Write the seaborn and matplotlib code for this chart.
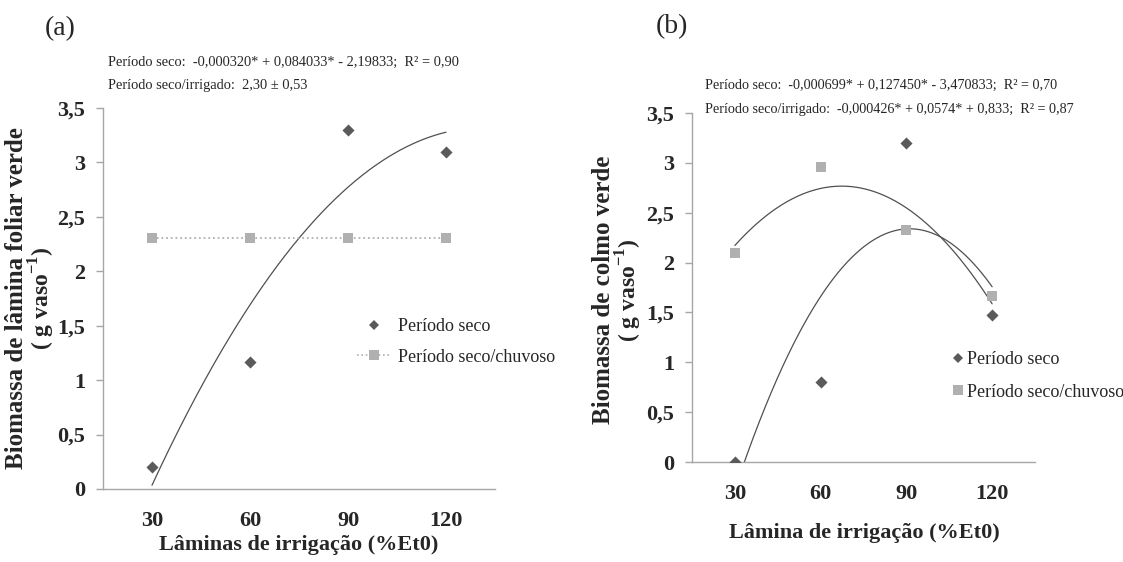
import numpy as np
import pandas as pd
import matplotlib
matplotlib.use("Agg")
import matplotlib.pyplot as plt
from matplotlib.lines import Line2D
from matplotlib.ticker import FixedLocator
import seaborn as sns

# ---- data -------------------------------------------------------------
laminas = [30, 60, 90, 120]

# (a) biomassa de lâmina foliar verde
seco_a = [0.20, 1.17, 3.30, 3.10]
chuvoso_a = [2.31, 2.31, 2.31, 2.31]
coef_seco_a = [-0.000320, 0.084033, -2.19833]

# (b) biomassa de colmo verde
seco_b = [0.00, 0.80, 3.20, 1.47]
chuvoso_b = [2.10, 2.96, 2.33, 1.66]
coef_seco_b = [-0.000699, 0.127450, -3.470833]
coef_chuvoso_b = [-0.000426, 0.0574, 0.833]

y_ticks = [0, 0.5, 1, 1.5, 2, 2.5, 3, 3.5]
y_ticklabels = ["0", "0,5", "1", "1,5", "2", "2,5", "3", "3,5"]
x_ticklabels = ["30", "60", "90", "120"]

eq_a = ["Período seco:  -0,000320* + 0,084033* - 2,19833;  R² = 0,90",
        "Período seco/irrigado:  2,30 ± 0,53"]
eq_b = ["Período seco:  -0,000699* + 0,127450* - 3,470833;  R² = 0,70",
        "Período seco/irrigado:  -0,000426* + 0,0574* + 0,833;  R² = 0,87"]

# ---- style ------------------------------------------------------------
sns.set_style("white")
plt.rcParams["font.family"] = ["Liberation Serif", "DejaVu Serif"]
plt.rcParams["mathtext.fontset"] = "custom"
plt.rcParams["mathtext.rm"] = "Liberation Serif"
plt.rcParams["mathtext.bf"] = "Liberation Serif:bold"

C_SECO = "#5a5a5a"
C_CHUV = "#b0b0b0"
C_AXIS = "#a6a6a6"
C_TREND = "#505050"

W, H = 1123, 562
fig = plt.figure(figsize=(W / 100, H / 100), dpi=100)


def px_axes(left, top, right, bottom):
    return fig.add_axes([left / W, 1 - bottom / H, (right - left) / W, (bottom - top) / H])


ax_a = px_axes(103, 108, 495, 489)
ax_b = px_axes(692, 113, 1035, 462)


def style_axes(ax):
    ax.set_xlim(15, 135)
    ax.set_ylim(0, 3.5)
    for s in ["top", "right"]:
        ax.spines[s].set_visible(False)
    for s in ["left", "bottom"]:
        ax.spines[s].set_color(C_AXIS)
        ax.spines[s].set_linewidth(1.0)
    ax.set_yticks(y_ticks)
    ax.set_yticklabels(y_ticklabels, fontsize=16, fontweight="bold")
    ax.set_xticks(laminas)
    ax.set_xticklabels(x_ticklabels, fontsize=16, fontweight="bold")
    ax.xaxis.set_minor_locator(FixedLocator([15, 45, 75, 105, 135]))
    ax.tick_params(axis="x", which="major", length=0, pad=16)
    ax.tick_params(axis="x", which="minor", length=6, width=1, color=C_AXIS, direction="out")
    ax.tick_params(axis="y", which="major", length=5, width=1, color=C_AXIS,
                   direction="out", pad=8, left=True)
    ax.set_xlabel("")
    ax.set_ylabel("")


xs = np.linspace(30, 120, 300)

# ---- panel (a) --------------------------------------------------------
df_a = pd.DataFrame({"lamina": laminas, "seco": seco_a, "chuvoso": chuvoso_a})
sns.lineplot(x=xs, y=np.polyval(coef_seco_a, xs), ax=ax_a, color=C_TREND, lw=0.9)
sns.lineplot(data=df_a, x="lamina", y="chuvoso", ax=ax_a, color=C_CHUV,
             lw=1.3, linestyle=(0, (1, 1.6)))
sns.scatterplot(data=df_a, x="lamina", y="chuvoso", ax=ax_a, marker="s", s=55,
                color=C_CHUV, edgecolor=C_CHUV, linewidth=0, zorder=3, legend=False)
sns.scatterplot(data=df_a, x="lamina", y="seco", ax=ax_a, marker="D", s=38,
                color=C_SECO, edgecolor=C_SECO, linewidth=0, zorder=3, legend=False)
style_axes(ax_a)

handles_a = [
    Line2D([], [], color=C_SECO, marker="D", ms=5.5, mew=0, linestyle="none"),
    Line2D([], [], color=C_CHUV, marker="s", ms=7, mew=0, lw=1.2, linestyle=(0, (1, 1.6))),
]
ax_a.legend(handles_a, ["Período seco", "Período seco/chuvoso"],
            loc="center left", bbox_to_anchor=(357 / W, 1 - 342 / H),
            bbox_transform=fig.transFigure, frameon=False, fontsize=13,
            handlelength=1.9, handletextpad=0.35, labelspacing=0.75,
            borderpad=0, borderaxespad=0)

# ---- panel (b) --------------------------------------------------------
df_b = pd.DataFrame({"lamina": laminas, "seco": seco_b, "chuvoso": chuvoso_b})
sns.lineplot(x=xs, y=np.polyval(coef_chuvoso_b, xs), ax=ax_b, color=C_TREND, lw=0.9)
sns.lineplot(x=xs, y=np.polyval(coef_seco_b, xs), ax=ax_b, color=C_TREND, lw=0.9)
sns.scatterplot(data=df_b, x="lamina", y="chuvoso", ax=ax_b, marker="s", s=55,
                color=C_CHUV, edgecolor=C_CHUV, linewidth=0, zorder=3, legend=False)
sns.scatterplot(data=df_b, x="lamina", y="seco", ax=ax_b, marker="D", s=38,
                color=C_SECO, edgecolor=C_SECO, linewidth=0, zorder=3, legend=False)
style_axes(ax_b)

handles_b = [
    Line2D([], [], color=C_SECO, marker="D", ms=5, mew=0, linestyle="none"),
    Line2D([], [], color=C_CHUV, marker="s", ms=7, mew=0, linestyle="none"),
]
ax_b.legend(handles_b, ["Período seco", "Período seco/chuvoso"],
            loc="center left", bbox_to_anchor=(953 / W, 1 - 376 / H),
            bbox_transform=fig.transFigure, frameon=False, fontsize=13,
            handlelength=0.5, handletextpad=0.3, labelspacing=0.85,
            borderpad=0, borderaxespad=0)

# ---- text -------------------------------------------------------------
def ftext(x, y, s, **kw):
    fig.text(x / W, 1 - y / H, s, **kw)


ftext(60, 29, "(a)", fontsize=20, ha="center", va="center")
ftext(672, 27, "(b)", fontsize=20, ha="center", va="center")

ftext(108, 62, eq_a[0], fontsize=10.4, ha="left", va="center")
ftext(108, 85, eq_a[1], fontsize=10.4, ha="left", va="center")
ftext(705, 85, eq_b[0], fontsize=10.2, ha="left", va="center")
ftext(705, 110, eq_b[1], fontsize=10.2, ha="left", va="center")

ftext(17, 298, "Biomassa de lâmina foliar verde", fontsize=18, fontweight="bold",
      rotation=90, ha="center", va="center")
ftext(42, 298, r"( g vaso$^{\mathbf{-1}}$)", fontsize=17, fontweight="bold",
      rotation=90, ha="center", va="center")
ftext(604, 290, "Biomassa de colmo verde", fontsize=18, fontweight="bold",
      rotation=90, ha="center", va="center")
ftext(629, 290, r"( g vaso$^{\mathbf{-1}}$)", fontsize=17, fontweight="bold",
      rotation=90, ha="center", va="center")

ftext(299, 545, "Lâminas de irrigação (%Et0)", fontsize=16, fontweight="bold",
      ha="center", va="center")
ftext(864, 533, "Lâmina de irrigação (%Et0)", fontsize=16, fontweight="bold",
      ha="center", va="center")

fig.savefig("out.png", dpi=100, facecolor="white")
